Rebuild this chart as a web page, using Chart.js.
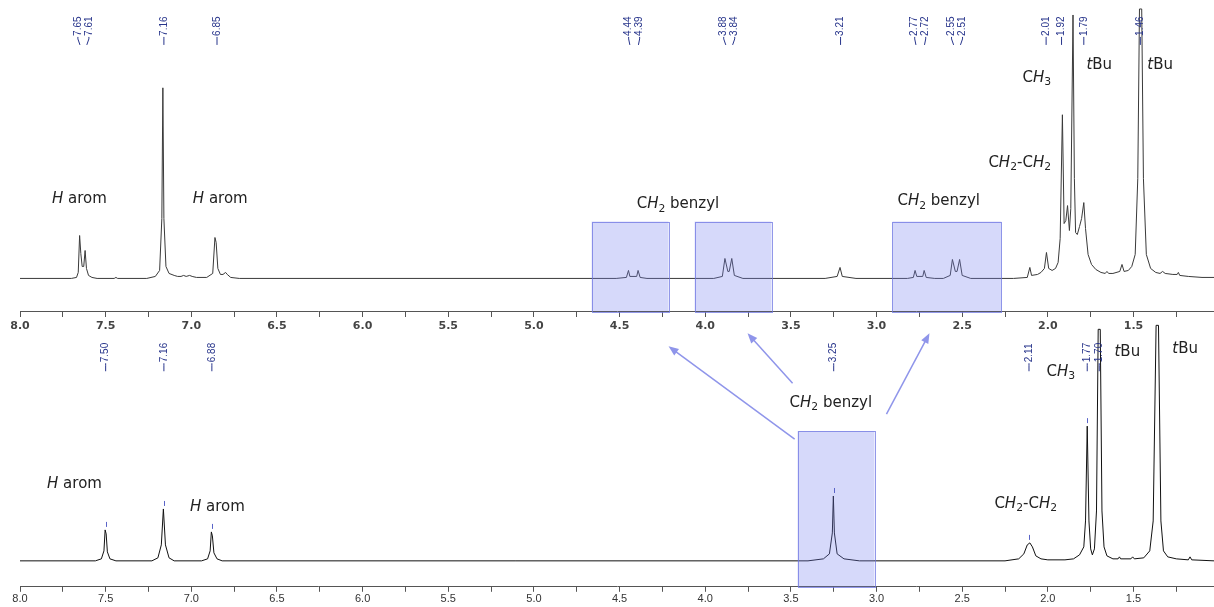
<!DOCTYPE html>
<html>
<head>
<meta charset="utf-8">
<script src="https://cdn.jsdelivr.net/npm/chart.js@4.4.1/dist/chart.umd.min.js"></script>
<style>
    html, body { margin: 0; padding: 0; background: #fff; }
    #nmr { display: block; }
</style>
</head>
<body>
<canvas id="nmr" width="1214" height="607"></canvas>
<script>
// tick labels of both ppm axes
const axisLabels = ['8.0', '7.5', '7.0', '6.5', '6.0', '5.5', '5.0', '4.5', '4.0', '3.5', '3.0', '2.5', '2.0', '1.5'];

// upper spectrum (ppm, intensity)
const topPpm = [
    8.00, 7.70, 7.67, 7.66, 7.652, 7.645, 7.637, 7.628, 7.62, 7.612, 7.60, 7.58, 7.55,
    7.45, 7.44, 7.43,
    7.26, 7.21, 7.185, 7.172, 7.166, 7.160, 7.148, 7.13, 7.10, 7.08, 7.06, 7.045, 7.03, 7.01, 6.995, 6.97,
    6.91, 6.875, 6.862, 6.855, 6.845, 6.83, 6.815, 6.80, 6.79, 6.77, 6.72,
    4.52, 4.46, 4.448, 4.44, 4.40, 4.392, 4.38, 4.34,
    3.95, 3.90, 3.885, 3.868, 3.86, 3.845, 3.83, 3.78,
    3.30, 3.23, 3.213, 3.20, 3.12,
    2.82, 2.785, 2.775, 2.765, 2.73, 2.722, 2.71, 2.66,
    2.61, 2.57, 2.557, 2.54, 2.53, 2.515, 2.50, 2.45,
    2.20, 2.12, 2.105, 2.095, 2.06, 2.04, 2.02, 2.008, 1.995, 1.975, 1.955, 1.94, 1.928, 1.915, 1.905,
    1.895, 1.885, 1.874, 1.866, 1.853, 1.845, 1.838, 1.828, 1.815, 1.803, 1.79, 1.78, 1.765, 1.745,
    1.72, 1.69, 1.665, 1.655, 1.645, 1.62, 1.58, 1.567, 1.555, 1.53, 1.51, 1.49, 1.475, 1.465, 1.452,
    1.442, 1.425, 1.40, 1.37, 1.345, 1.33, 1.315, 1.27, 1.245, 1.238, 1.23, 1.18, 1.10, 1.03
];
const topInt = [
    0, 0, 1, 6, 43, 25, 12, 12, 28, 10, 3, 1, 0,
    0, 1, 0,
    0, 2, 8, 60, 191, 60, 12, 5, 3, 2, 2, 3, 2, 3, 2, 1,
    1, 5, 41, 36, 10, 4, 4, 6, 4, 1, 0,
    0, 1, 8, 2, 2, 8, 1, 0,
    0, 2, 20, 7, 7, 20, 3, 0,
    0, 2, 11, 2, 0,
    0, 1, 8, 2, 2, 8, 1, 0,
    0, 3, 19, 7, 7, 19, 3, 0,
    0, 1, 11, 3, 4, 6, 10, 26, 10, 8, 10, 16, 40, 164, 55,
    58, 73, 48, 70, 264, 100, 46, 44, 52, 60, 76, 50, 24, 14,
    9, 6, 5, 7, 5, 5, 7, 14, 7, 8, 12, 24, 100, 270, 270,
    100, 24, 10, 6, 5, 7, 5, 4, 4, 6, 3, 2, 1, 1
];

// lower spectrum
const botPpm = [
    8.00, 7.56, 7.525, 7.51, 7.503, 7.497, 7.49, 7.475, 7.44,
    7.23, 7.195, 7.175, 7.163, 7.151, 7.13, 7.10,
    6.94, 6.905, 6.89, 6.883, 6.877, 6.868, 6.85, 6.82,
    3.40, 3.31, 3.275, 3.258, 3.252, 3.246, 3.23, 3.19, 3.10,
    2.25, 2.17, 2.14, 2.12, 2.105, 2.09, 2.07, 2.04, 2.00, 1.90, 1.85,
    1.815, 1.79, 1.78, 1.770, 1.760, 1.75, 1.74, 1.728, 1.716, 1.706, 1.694, 1.684, 1.672, 1.655,
    1.62, 1.59, 1.582, 1.575, 1.515, 1.505, 1.495,
    1.44, 1.405, 1.385, 1.368, 1.354, 1.340, 1.325, 1.30, 1.25, 1.18, 1.17, 1.16, 1.03
];
const botInt = [
    0, 0, 2, 10, 31, 27, 9, 2, 0,
    0, 3, 16, 52, 16, 3, 0,
    0, 2, 10, 29, 25, 8, 2, 0,
    0, 2, 7, 28, 65, 28, 7, 2, 0,
    0, 2, 7, 16, 18, 14, 5, 2, 1, 1, 2,
    6, 14, 40, 135, 40, 12, 6, 12, 50, 232, 232, 50, 14, 5,
    2, 2, 4, 2, 2, 4, 2,
    3, 10, 40, 236, 236, 40, 10, 4, 2, 1, 4, 1, 0
];

// peak picking labels
const topPeakLabels = [7.65, 7.61, 7.16, 6.85, 4.44, 4.39, 3.88, 3.84, 3.21, 2.77, 2.72, 2.55, 2.51, 2.01, 1.92, 1.79, 1.46];
const botPeakLabels = [7.50, 7.16, 6.88, 3.25, 2.11, 1.77, 1.70];

// highlighted ppm ranges (left, right)
const topBoxes = [[4.663, 4.214], [4.062, 3.613], [2.907, 2.271]];
const botBoxes = [[3.461, 3.012]];

// vertical layout in y-scale units (scale spans the canvas height above the lower axis)
const TOP_BASE = 309;
const BOT_BASE = 26;
const TOP_AXIS = 276;

const boxColor = 'rgba(120,130,240,0.30)';
const boxBorder = 'rgba(110,118,225,0.75)';
const arrowColor = '#8f95ea';
const labelBlue = '#27348b';
const textFont = '"DejaVu Sans", Verdana, sans-serif';

const H = (t) => ({ t, it: true });
const S = (t) => ({ t, sub: true });
const P = (t) => ({ t });

// [ppm of left edge, y value of middle, text parts]
const notes = [
    [7.813, 388, [H('H'), P(' arom')]],
    [6.991, 388, [H('H'), P(' arom')]],
    [4.400, 383, [P('C'), H('H'), S('2'), P(' benzyl')]],
    [2.878, 386, [P('C'), H('H'), S('2'), P(' benzyl')]],
    [2.347, 425, [P('C'), H('H'), S('2'), P('-C'), H('H'), S('2')]],
    [2.148, 510, [P('C'), H('H'), S('3')]],
    [1.775, 523, [H('t'), P('Bu')]],
    [1.419, 523, [H('t'), P('Bu')]],
    [7.842, 103, [H('H'), P(' arom')]],
    [7.008, 80, [H('H'), P(' arom')]],
    [3.508, 184, [P('C'), H('H'), S('2'), P(' benzyl')]],
    [2.312, 83, [P('C'), H('H'), S('2'), P('-C'), H('H'), S('2')]],
    [2.008, 215, [P('C'), H('H'), S('3')]],
    [1.611, 235, [H('t'), P('Bu')]],
    [1.273, 238, [H('t'), P('Bu')]],
];

// arrows from the lower box up to the upper ones: [ppm0, y0, ppm1, y1]
const arrows = [
    [3.478, 148, 4.214, 241],
    [3.490, 204, 3.753, 254],
    [2.942, 173, 2.691, 254],
];

function tickLabel(value) {
    if (Math.abs(value * 2 - Math.round(value * 2)) > 1e-6) return '';
    const s = value.toFixed(1);
    return axisLabels.includes(s) ? s : '';
}

function drawRich(ctx, x, y, parts, size) {
    let cx = x;
    parts.forEach(p => {
        const fs = p.sub ? size * 0.72 : size;
        ctx.font = `${p.it ? 'italic ' : ''}${fs}px ${textFont}`;
        ctx.fillText(p.t, cx, p.sub ? y + size * 0.28 : y);
        cx += ctx.measureText(p.t).width;
    });
}

// highest trace value within 0.02 ppm of a picked peak
function peakTop(ppm, ints, at) {
    let best = 0;
    ppm.forEach((p, i) => {
        if (Math.abs(p - at) < 0.02) best = Math.max(best, ints[i]);
    });
    return best;
}

const annotate = {
    id: 'annotate',
    afterDatasetsDraw(chart) {
        const { ctx, scales: { x, y } } = chart;
        const px = v => x.getPixelForValue(v);
        const py = v => y.getPixelForValue(v);
        ctx.save();

        // shaded boxes
        ctx.fillStyle = boxColor;
        ctx.strokeStyle = boxBorder;
        ctx.lineWidth = 1;
        const box = (a, b, top, bottom) => {
            const x0 = px(a), x1 = px(b), y0 = py(top), y1 = py(bottom);
            ctx.fillRect(x0, y0, x1 - x0, y1 - y0);
            ctx.strokeRect(Math.round(x0) + 0.5, Math.round(y0) + 0.5, Math.round(x1 - x0), Math.round(y1 - y0));
        };
        topBoxes.forEach(([a, b]) => box(a, b, 366, TOP_AXIS));
        botBoxes.forEach(([a, b]) => box(a, b, 156, 0));

        // arrows
        ctx.strokeStyle = arrowColor;
        ctx.fillStyle = arrowColor;
        ctx.lineWidth = 1.5;
        arrows.forEach(([a0, b0, a1, b1]) => {
            const x0 = px(a0), y0 = py(b0), x1 = px(a1), y1 = py(b1);
            const ang = Math.atan2(y1 - y0, x1 - x0);
            ctx.beginPath();
            ctx.moveTo(x0, y0);
            ctx.lineTo(x1 - 6 * Math.cos(ang), y1 - 6 * Math.sin(ang));
            ctx.stroke();
            ctx.beginPath();
            ctx.moveTo(x1, y1);
            ctx.lineTo(x1 - 10 * Math.cos(ang) + 4 * Math.sin(ang), y1 - 10 * Math.sin(ang) - 4 * Math.cos(ang));
            ctx.lineTo(x1 - 10 * Math.cos(ang) - 4 * Math.sin(ang), y1 - 10 * Math.sin(ang) + 4 * Math.cos(ang));
            ctx.closePath();
            ctx.fill();
        });

        // annotation texts
        ctx.fillStyle = '#222';
        ctx.textBaseline = 'middle';
        ctx.textAlign = 'left';
        notes.forEach(([p, v, parts]) => drawRich(ctx, px(p), py(v), parts, 15));

        // small peak-pick markers above the lower peaks
        ctx.strokeStyle = '#5a64c8';
        ctx.lineWidth = 1;
        botPeakLabels.forEach(v => {
            const top = py(BOT_BASE + peakTop(botPpm, botInt, v));
            if (top < py(BOT_BASE + 200)) return;
            ctx.beginPath();
            ctx.moveTo(Math.round(px(v)) + 0.5, top - 3);
            ctx.lineTo(Math.round(px(v)) + 0.5, top - 8);
            ctx.stroke();
        });

        // peak labels, rotated, with leader lines
        ctx.strokeStyle = labelBlue;
        ctx.fillStyle = labelBlue;
        ctx.lineWidth = 1;
        ctx.font = '10px "Liberation Sans", Arial, sans-serif';
        const peakLabels = (values, textBottom, leaderEnd) => {
            const xs = values.map(v => px(v));
            const pos = xs.slice();
            for (let k = 0; k < 20; k++) {
                for (let i = 1; i < pos.length; i++) {
                    const d = pos[i] - pos[i - 1];
                    if (d < 11) {
                        pos[i] += (11 - d) / 2;
                        pos[i - 1] -= (11 - d) / 2;
                    }
                }
            }
            values.forEach((v, i) => {
                ctx.beginPath();
                ctx.moveTo(pos[i], py(textBottom));
                ctx.lineTo(pos[i], py(textBottom) + 2);
                ctx.lineTo(xs[i], py(leaderEnd));
                ctx.stroke();
                ctx.save();
                ctx.translate(pos[i], py(textBottom) - 1);
                ctx.rotate(-Math.PI / 2);
                ctx.textBaseline = 'middle';
                ctx.fillText(v.toFixed(2), 0, 0);
                ctx.restore();
            });
        };
        peakLabels(topPeakLabels, 551, 543);
        peakLabels(botPeakLabels, 224, 216);

        ctx.restore();
    }
};

const axisCommon = {
    type: 'linear',
    min: 1.03,
    max: 8.0,
    reverse: true,
    grid: { display: true, drawOnChartArea: false, drawTicks: true, tickLength: 5, color: '#555' },
    border: { display: true, color: '#555' },
};

new Chart(document.getElementById('nmr'), {
    type: 'scatter',
    data: {
        datasets: [
            {
                label: 'upper',
                data: topPpm.map((p, i) => ({ x: p, y: TOP_BASE + topInt[i] })),
                showLine: true,
                borderColor: '#3a3a3a',
                borderWidth: 1,
                pointRadius: 0,
                tension: 0,
            },
            {
                label: 'lower',
                data: botPpm.map((p, i) => ({ x: p, y: BOT_BASE + botInt[i] })),
                showLine: true,
                borderColor: '#111',
                borderWidth: 1,
                pointRadius: 0,
                tension: 0,
            },
        ],
    },
    options: {
        responsive: false,
        animation: false,
        devicePixelRatio: 1,
        events: [],
        layout: { padding: { left: 20, right: 0, top: 0, bottom: 0 } },
        plugins: { legend: { display: false }, tooltip: { enabled: false } },
        scales: {
            x: {
                ...axisCommon,
                position: 'bottom',
                ticks: {
                    stepSize: 0.25, autoSkip: false, maxRotation: 0, includeBounds: false, padding: 1,
                    color: '#333', font: { family: '"Liberation Sans", Arial, sans-serif', size: 11 },
                    callback: tickLabel,
                },
            },
            xTop: {
                ...axisCommon,
                axis: 'x',
                position: { y: TOP_AXIS },
                ticks: {
                    stepSize: 0.25, autoSkip: false, maxRotation: 0, includeBounds: false, padding: 3,
                    color: '#444', font: { family: textFont, size: 11, weight: 'bold' },
                    callback: tickLabel,
                },
            },
            y: { display: false, min: 0, max: 588 },
        },
    },
    plugins: [annotate],
});
</script>
</body>
</html>
